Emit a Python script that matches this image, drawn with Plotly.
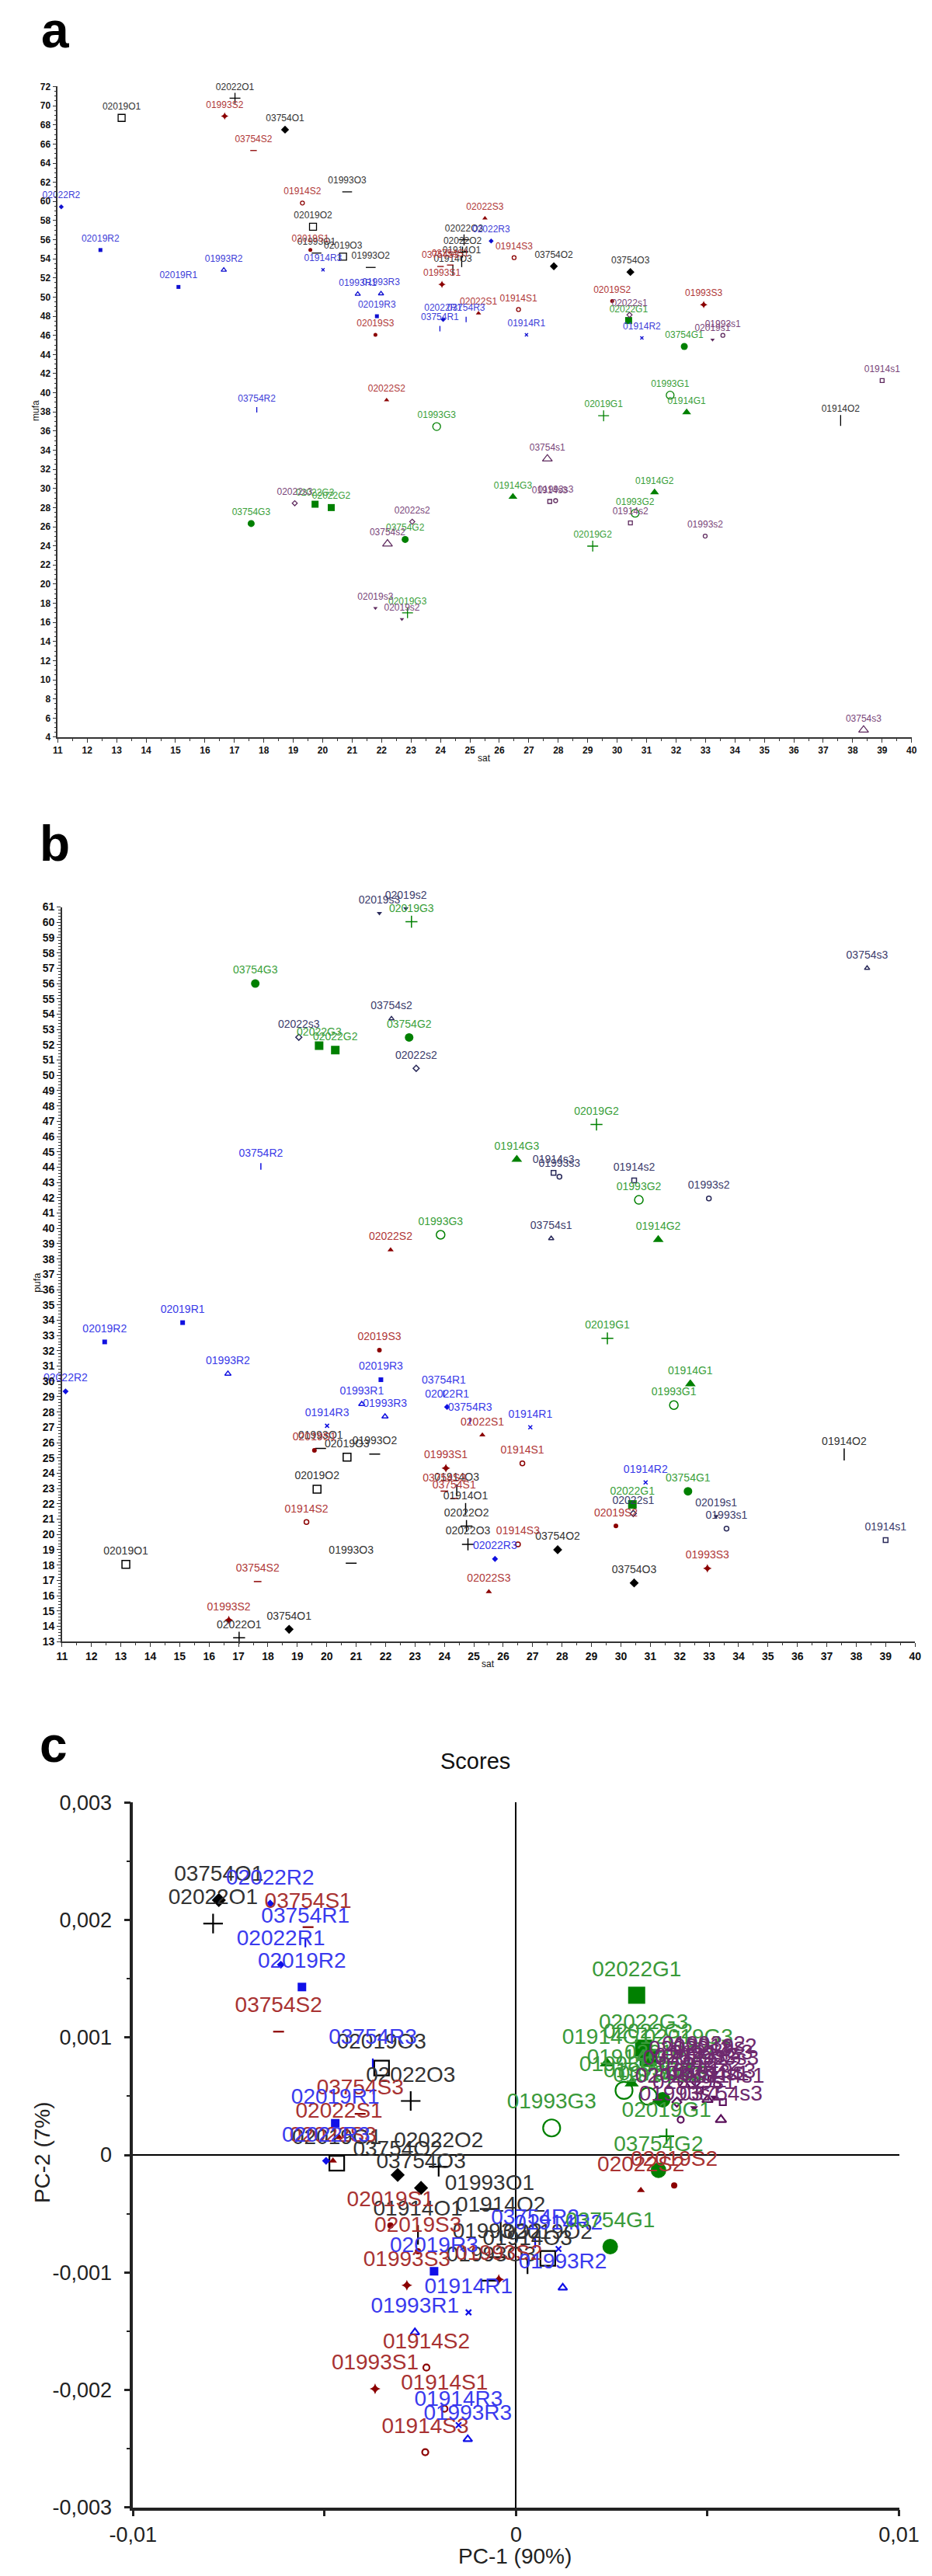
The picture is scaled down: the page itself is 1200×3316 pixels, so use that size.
import plotly.graph_objects as go

W, H = 1200, 3316
FONT = "Liberation Sans, Arial, Helvetica, sans-serif"

# ---------------- data ----------------
LABELS_O = ["02019O1", "02019O2", "02019O3", "02022O1", "02022O2", "02022O3", "03754O1", "03754O2", "03754O3",
            "01993O1", "01993O2", "01993O3", "01914O1", "01914O2", "01914O3"]
SAT_O = [13.17, 19.67, 20.69, 17.02, 24.75, 24.80, 18.72, 27.85, 30.45, 19.79, 21.63, 20.83, 24.72, 37.59, 24.42]
MUFA_O = [68.73, 57.36, 54.22, 70.79, 54.70, 55.99, 67.50, 53.22, 52.62, 54.60, 53.10, 61.00, 53.70, 37.10, 52.80]
PUFA_O = [18.05, 22.95, 25.05, 13.25, 20.55, 19.35, 13.80, 19.00, 16.83, 25.62, 25.25, 18.12, 21.66, 25.23, 22.88]
PC1_O = [-0.00468, 0.00083, -0.00351, -0.00791, -0.00202, -0.00275, -0.00776, -0.00309, -0.00248,
         -0.00069, -0.00049, -0.00065, -0.00256, -0.00040, 0.00030]
PC2_O = [-0.00007, -0.00088, 0.00074, 0.00197, -0.00010, 0.00046, 0.00217, -0.00017, -0.00028,
         -0.00046, -0.00087, -0.00107, -0.00068, -0.00065, -0.00093]

LABELS_S = ["02019S1", "02019S2", "02019S3", "02022S1", "02022S2", "02022S3", "03754S1", "03754S2", "03754S3",
            "01993S1", "01993S2", "01993S3", "01914S1", "01914S2", "01914S3"]
SAT_S = [19.58, 29.83, 21.79, 25.29, 22.17, 25.51, 24.33, 17.65, 24.00, 24.05, 16.67, 32.94, 26.65, 19.31, 26.50]
MUFA_S = [54.92, 49.59, 46.05, 48.30, 39.24, 58.24, 53.35, 65.32, 53.20, 51.33, 68.92, 49.21, 48.70, 59.83, 54.12]
PUFA_S = [25.50, 20.56, 32.04, 26.50, 38.59, 16.25, 22.35, 16.92, 22.83, 24.33, 14.41, 17.78, 24.64, 20.81, 19.35]
PC1_S = [-0.00328, 0.00413, -0.00256, -0.00462, 0.00326, -0.00478, -0.00543, -0.00620, -0.00407,
         -0.00368, -0.00045, -0.00285, -0.00187, -0.00234, -0.00237]
PC2_S = [-0.00060, -0.00026, -0.00082, 0.00015, -0.00030, -0.00005, 0.00194, 0.00105, 0.00035,
         -0.00199, -0.00106, -0.00111, -0.00216, -0.00181, -0.00253]

LABELS_R = ["02019R1", "02019R2", "02019R3", "02022R1", "02022R2", "02022R3", "03754R1", "03754R2", "03754R3",
            "01993R1", "01993R2", "01993R3", "01914R1", "01914R2", "01914R3"]
SAT_R = [15.10, 12.45, 21.84, 24.09, 11.12, 25.72, 23.98, 17.76, 24.87, 21.19, 16.64, 21.98, 26.92, 30.84, 20.01]
MUFA_R = [51.06, 54.92, 48.00, 47.66, 59.43, 55.86, 46.70, 38.22, 47.66, 50.31, 52.83, 50.36, 46.05, 45.73, 52.86]
PUFA_R = [33.84, 32.58, 30.11, 28.33, 29.35, 18.40, 29.20, 44.05, 27.42, 28.51, 30.50, 27.70, 27.00, 23.40, 27.10]
PC1_R = [-0.00472, -0.00559, -0.00214, -0.00614, -0.00642, -0.00496, -0.00550, 0.00050, -0.00374,
         -0.00264, 0.00122, -0.00126, -0.00124, 0.00111, -0.00150]
PC2_R = [0.00027, 0.00143, -0.00099, 0.00162, 0.00214, -0.00005, 0.00181, -0.00075, 0.00078,
         -0.00151, -0.00113, -0.00242, -0.00134, -0.00080, -0.00230]

LABELS_G = ["02019G1", "02019G2", "02019G3", "02022G1", "02022G2", "02022G3", "03754G1", "03754G2", "03754G3",
            "01993G1", "01993G2", "01993G3", "01914G1", "01914G2", "01914G3"]
SAT_G = [29.54, 29.17, 22.88, 30.39, 20.29, 19.74, 32.28, 22.80, 17.57, 31.80, 30.61, 23.87, 32.36, 31.27, 26.46]
MUFA_G = [37.60, 23.97, 17.00, 47.55, 28.00, 28.35, 44.84, 24.67, 26.33, 39.75, 27.41, 36.47, 37.95, 29.60, 29.12]
PUFA_G = [32.81, 46.79, 60.04, 21.96, 51.65, 51.94, 22.82, 52.48, 56.00, 28.45, 41.86, 39.58, 29.84, 39.26, 44.51]
PC1_G = [0.00393, 0.00400, 0.00450, 0.00315, 0.00345, 0.00333, 0.00246, 0.00372, 0.00383,
         0.00282, 0.00345, 0.00093, 0.00237, 0.00302, 0.00370]
PC2_G = [0.00016, 0.00065, 0.00078, 0.00136, 0.00083, 0.00091, -0.00078, -0.00013, 0.00047,
         0.00055, 0.00050, 0.00023, 0.00078, 0.00061, 0.00046]

LABELS_s = ["02019s1", "02019s2", "02019s3", "02022s1", "02022s2", "02022s3", "03754s1", "03754s2", "03754s3",
            "01993s1", "01993s2", "01993s3", "01914s1", "01914s2", "01914s3"]
SAT_s = [33.24, 22.69, 21.79, 30.42, 23.04, 19.05, 27.63, 22.20, 38.37, 33.59, 32.99, 27.91, 39.00, 30.45, 27.71]
MUFA_s = [45.54, 16.33, 17.49, 48.14, 26.52, 28.45, 33.09, 24.21, 4.75, 46.00, 25.02, 28.72, 41.28, 26.39, 28.64]
PUFA_s = [21.19, 60.90, 60.60, 21.37, 50.46, 52.49, 39.34, 53.70, 57.00, 20.38, 41.96, 43.37, 19.63, 43.13, 43.63]
PC1_s = [0.00465, 0.00520, 0.00517, 0.00420, 0.00470, 0.00455, 0.00500, 0.00440, 0.00535,
         0.00430, 0.00490, 0.00525, 0.00540, 0.00480, 0.00510]
PC2_s = [0.00040, 0.00070, 0.00049, 0.00045, 0.00062, 0.00068, 0.00047, 0.00060, 0.00030,
         0.00030, 0.00072, 0.00060, 0.00045, 0.00055, 0.00065]

A_XTICKS = list(range(11, 41))
A_YTICKS = list(range(4, 73, 2))
B_XTICKS = list(range(11, 41))
B_YTICKS = list(range(13, 62))
C_XTICKS = [-0.01, 0.0, 0.01]
C_XTICKTEXT = ["-0,01", "0", "0,01"]
C_YTICKS = [-0.003, -0.002, -0.001, 0.0, 0.001, 0.002, 0.003]
C_YTICKTEXT = ["-0,003", "-0,002", "-0,001", "0", "0,001", "0,002", "0,003"]

# ---------------- styles ----------------
TYPES = ["O", "S", "R", "G", "s"]
GROUPS = {
    "O": (LABELS_O, SAT_O, MUFA_O, PUFA_O, PC1_O, PC2_O),
    "S": (LABELS_S, SAT_S, MUFA_S, PUFA_S, PC1_S, PC2_S),
    "R": (LABELS_R, SAT_R, MUFA_R, PUFA_R, PC1_R, PC2_R),
    "G": (LABELS_G, SAT_G, MUFA_G, PUFA_G, PC1_G, PC2_G),
    "s": (LABELS_s, SAT_s, MUFA_s, PUFA_s, PC1_s, PC2_s),
}
SYM = {
    "O": ["square-open", "cross-thin", "diamond", "line-ew", "line-ns"],
    "S": ["circle", "triangle-up", "line-ew", "star-diamond", "circle-open"],
    "R": ["square", "diamond", "line-ns", "triangle-up-open", "x-thin"],
    "G": ["cross-thin", "square", "circle", "circle-open", "triangle-up"],
    "s": ["triangle-down", "diamond-open", "triangle-up-open", "circle-open", "square-open"],
}
SIZE_A = {"O": [9, 10, 8, 9, 10], "S": [5, 6, 6, 7, 5], "R": [5, 5, 5, 6, 4],
          "G": [10, 9, 9, 10, 10], "s": [5, 5, 11, 5, 5]}
SIZE_B = {"O": [10, 11, 9, 10, 11], "S": [6, 7, 7, 8, 6], "R": [6, 6, 6, 7, 5],
          "G": [11, 11, 11, 11, 12], "s": [6, 6, 6, 6, 6]}
SIZE_C = {"O": [19, 18, 14, 18, 18], "S": [8, 9, 10, 10, 8], "R": [11, 8, 9, 10, 7],
          "G": [14, 22, 20, 22, 16], "s": [9, 9, 12, 8, 8]}
MCOL = {
    "a": {"O": "#000000", "S": "#8b0000", "R": "#1010d0", "G": "#008000", "s": "#5e2a5e"},
    "b": {"O": "#000000", "S": "#8b0000", "R": "#1010e0", "G": "#008000", "s": "#2a2a5a"},
    "c": {"O": "#000000", "S": "#8b0000", "R": "#1010e8", "G": "#008000", "s": "#5a105a"},
}
TCOL = {
    "a": {"O": "#333333", "S": "#b03838", "R": "#4040d8", "G": "#3aa03a", "s": "#7a467a"},
    "b": {"O": "#333333", "S": "#b03838", "R": "#3a3ae8", "G": "#3aa03a", "s": "#3c3c6c"},
    "c": {"O": "#333333", "S": "#a83232", "R": "#3a3aee", "G": "#3a9a3a", "s": "#6e2a6e"},
}

PANELS = [
    dict(key="a", xa="x", ya="y", xi=1, yi=2, sizes=SIZE_A, fs=12, off=11, lw=1.3),
    dict(key="b", xa="x2", ya="y2", xi=1, yi=3, sizes=SIZE_B, fs=14, off=13, lw=1.5),
    dict(key="c", xa="x3", ya="y3", xi=4, yi=5, sizes=SIZE_C, fs=28, off=27, lw=2.2),
]


def px(x):
    return x / W


def py(y):
    return 1 - y / H


fig = go.Figure()
LINE_SYMS = ("line-ew", "line-ns", "cross-thin", "x-thin")

for p in PANELS:
    # markers first
    for t in TYPES:
        arrs = GROUPS[t]
        for k in range(5):
            sl = slice(3 * k, 3 * k + 3)
            sym = SYM[t][k]
            col = MCOL[p["key"]][t]
            needs_line = sym in LINE_SYMS or sym.endswith("-open")
            fig.add_trace(go.Scatter(
                x=arrs[p["xi"]][sl], y=arrs[p["yi"]][sl], mode="markers",
                xaxis=p["xa"], yaxis=p["ya"], cliponaxis=False,
                marker=dict(symbol=sym, size=p["sizes"][t][k], color=col,
                            line=dict(color=col, width=p["lw"] if needs_line else 0)),
                hoverinfo="skip", showlegend=False))
    # labels
    for t in TYPES:
        arrs = GROUPS[t]
        for k in range(5):
            sl = slice(3 * k, 3 * k + 3)
            fig.add_trace(go.Scatter(
                x=arrs[p["xi"]][sl], y=arrs[p["yi"]][sl], mode="markers+text",
                text=arrs[0][sl], textposition="top center",
                textfont=dict(family=FONT, size=p["fs"], color=TCOL[p["key"]][t]),
                xaxis=p["xa"], yaxis=p["ya"], cliponaxis=False,
                marker=dict(size=p["off"], opacity=0),
                hoverinfo="skip", showlegend=False))

AXCOL = "#333333"


def ab_axis(domain, rng, vals, anchor, minor_dtick, fs, bold=True):
    return dict(domain=domain, range=rng, anchor=anchor, tickmode="array", tickvals=vals,
                ticks="outside", ticklen=5, tickwidth=1.2, tickcolor=AXCOL,
                showline=True, linecolor=AXCOL, linewidth=1.5, showgrid=False, zeroline=False,
                tickfont=dict(family=FONT, size=fs, color="#111111", weight="bold" if bold else "normal"),
                minor=dict(tickmode="linear", tick0=rng[0], dtick=minor_dtick, ticks="outside",
                           ticklen=3, tickwidth=1, tickcolor=AXCOL, showgrid=False))


fig.update_layout(
    width=W, height=H, margin=dict(l=0, r=0, t=0, b=0),
    paper_bgcolor="white", plot_bgcolor="white", showlegend=False, separators=",.",
    xaxis=ab_axis([px(37.1), px(1191.3)], [11, 40], A_XTICKS, "y", 0.5, 12),
    yaxis=ab_axis([py(934.4), py(89.3)], [4, 72], A_YTICKS, "x", 0.5, 12),
    xaxis2=ab_axis([px(42.9), px(1196.0)], [11, 40], B_XTICKS, "y2", 0.5, 14),
    yaxis2=ab_axis([py(2109.2), py(1155.0)], [13, 61], B_YTICKS, "x2", 0.2, 14),
    xaxis3=dict(domain=[px(138.9), px(1174.3)], range=[-0.01, 0.01], anchor="y3",
                tickmode="array", tickvals=C_XTICKS, ticktext=C_XTICKTEXT,
                ticks="outside", ticklen=8, tickwidth=2.5, tickcolor="#222",
                showline=True, linecolor="#222", linewidth=3.5, showgrid=False,
                zeroline=True, zerolinecolor="#000", zerolinewidth=1.5,
                tickfont=dict(family=FONT, size=27, color="#222"),
                minor=dict(tickmode="array", tickvals=[-0.005, 0.005], ticks="outside",
                           ticklen=8, tickwidth=2.5, tickcolor="#222", showgrid=False)),
    yaxis3=dict(domain=[py(3233.9), py(2318.4)], range=[-0.003, 0.003], anchor="x3",
                tickmode="array", tickvals=C_YTICKS, ticktext=C_YTICKTEXT,
                ticks="outside", ticklen=8, tickwidth=2.5, tickcolor="#222",
                showline=True, linecolor="#222", linewidth=3.5, showgrid=False,
                zeroline=True, zerolinecolor="#000", zerolinewidth=1.5,
                tickfont=dict(family=FONT, size=27, color="#222"), ticklabelstandoff=10,
                minor=dict(tickmode="array",
                           tickvals=[-0.0025, -0.0015, -0.0005, 0.0005, 0.0015, 0.0025],
                           ticks="outside", ticklen=5, tickwidth=2, tickcolor="#222", showgrid=False)),
)


def ann(text, x, y, size, bold=False, angle=0, xanchor="center", yanchor="middle", color="#111"):
    fig.add_annotation(text=f"<b>{text}</b>" if bold else text, x=px(x), y=py(y),
                       xref="paper", yref="paper", showarrow=False, textangle=angle,
                       xanchor=xanchor, yanchor=yanchor,
                       font=dict(family=FONT, size=size, color=color))


ann("a", 13, 16, 64, bold=True, xanchor="left", color="#000")
ann("b", 11, 1073, 64, bold=True, xanchor="left", color="#000")
ann("c", 11, 2243, 64, bold=True, xanchor="left", color="#000")
ann("sat", 614, 962, 12)
ann("mufa", 8, 510, 12, angle=-90)
ann("sat", 619, 2138, 12)
ann("pufa", 9, 1643, 13, angle=-90)
ann("Scores", 602, 2264, 29, color="#111")
ann("PC-1 (90%)", 655, 3297, 28, color="#222")
ann("PC-2 (7%)", 17, 2773, 28, angle=-90, color="#222")

fig.write_html("out.html")
